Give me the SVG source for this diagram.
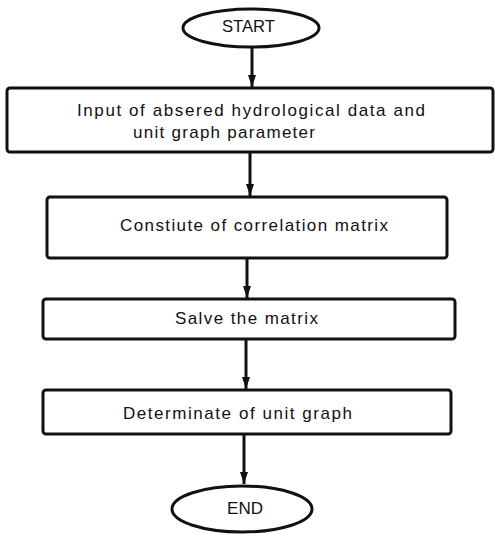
<svg xmlns="http://www.w3.org/2000/svg" width="495" height="534" viewBox="0 0 495 534">
<style>
.box{fill:#fff;stroke:#111;stroke-width:3}
.term{fill:#fff;stroke:#111;stroke-width:3}
.lbl{font-family:"Liberation Sans",Arial,sans-serif;font-size:17px;fill:#111;text-anchor:start}
.conn{stroke:#111;stroke-width:3;fill:none}
</style>
<defs>
<marker id="arr" viewBox="0 0 12 8" refX="12" refY="4" markerWidth="12" markerHeight="8" markerUnits="userSpaceOnUse" orient="auto">
<path d="M0,0 L12,4 L0,8 Z" fill="#111"/>
</marker>
</defs>
<rect width="495" height="534" fill="#fff"/>
<g id="connectors">
<line class="conn" x1="252" y1="47" x2="252" y2="87" marker-end="url(#arr)"/>
<line class="conn" x1="250" y1="152" x2="250" y2="196" marker-end="url(#arr)"/>
<line class="conn" x1="247" y1="258" x2="247" y2="298" marker-end="url(#arr)"/>
<line class="conn" x1="246" y1="339" x2="246" y2="389" marker-end="url(#arr)"/>
<line class="conn" x1="244" y1="434" x2="244" y2="484" marker-end="url(#arr)"/>
</g>
<g id="start">
<ellipse class="term" cx="251" cy="28" rx="68" ry="19"/>
<text class="lbl" x="222" y="32" textLength="53" lengthAdjust="spacingAndGlyphs">START</text>
</g>
<g id="input">
<rect class="box" x="7" y="88" width="486" height="64" rx="3"/>
<text class="lbl" x="77" y="116" textLength="348" lengthAdjust="spacing">Input of absered hydrological data and</text>
<text class="lbl" x="133" y="138" textLength="182" lengthAdjust="spacing">unit graph parameter</text>
</g>
<g id="constitute">
<rect class="box" x="47" y="197" width="400" height="61" rx="3"/>
<text class="lbl" x="120" y="231" textLength="268" lengthAdjust="spacing">Constiute of correlation matrix</text>
</g>
<g id="solve">
<rect class="box" x="43" y="299" width="412" height="40" rx="3"/>
<text class="lbl" x="175" y="324" textLength="143" lengthAdjust="spacing">Salve the matrix</text>
</g>
<g id="determine">
<rect class="box" x="43" y="390" width="408" height="44" rx="3"/>
<text class="lbl" x="123" y="419" textLength="229" lengthAdjust="spacing">Determinate of unit graph</text>
</g>
<g id="end">
<ellipse class="term" cx="242" cy="509" rx="70" ry="23"/>
<text class="lbl" x="227" y="514" textLength="36" lengthAdjust="spacing">END</text>
</g>
</svg>
